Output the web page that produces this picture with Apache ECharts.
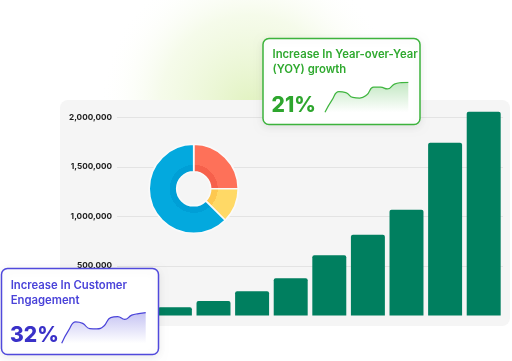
<!DOCTYPE html>
<html>
<head>
<meta charset="utf-8">
<script src="https://cdn.jsdelivr.net/npm/echarts@6/dist/echarts.min.js"></script>
<style>
html,body{margin:0;padding:0;background:#fff;}
#chart{width:512px;height:361px;}
</style>
</head>
<body>
<div id="chart"></div>
<script>
// ---- data ----
var barCategories = ['1','2','3','4','5','6','7','8','9','10'];
var barValues = [40000, 83000, 146000, 245000, 376000, 608000, 816000, 1066000, 1742000, 2056000];
var yTicks = [0, 500000, 1000000, 1500000, 2000000];

var pieNames = ['A', 'B', 'C'];
var pieValues = [25, 12.5, 62.5];

var yoyTitle = ['Increase In Year-over-Year', '(YOY) growth'];
var yoyValue = '21%';
var yoySpark = [0, 40, 68, 65, 49, 47, 57, 83, 83, 77, 93, 98, 99];

var engTitle = ['Increase In Customer', 'Engagement'];
var engValue = '32%';
var engSpark = [0, 43, 70, 65, 48, 47, 56, 84, 87, 78, 92, 97, 100];

var sparkCats = yoySpark.map(function (v, i) { return String(i); });

var FONT = 'Inter, "Noto Sans", sans-serif';

var chart = echarts.init(document.getElementById('chart'), null, {renderer: 'canvas'});

function vGrad(r, g, b, a) {
  return new echarts.graphic.LinearGradient(0, 0, 0, 1, [
    {offset: 0, color: 'rgba(' + r + ',' + g + ',' + b + ',' + a + ')'},
    {offset: 1, color: 'rgba(' + r + ',' + g + ',' + b + ',0)'}
  ]);
}

var PC = [193.7, 188.8], PR = 44.5;
function ringColor(dark, light) {
  var k = 24 / PR;
  return new echarts.graphic.RadialGradient(PC[0], PC[1], PR, [
    {offset: 0, color: dark}, {offset: k, color: dark},
    {offset: k + 0.001, color: light}, {offset: 1, color: light}
  ], true);
}
var pieColors = [ringColor('#f6604b', '#fe7159'), ringColor('#fdc84f', '#ffd966'), ringColor('#009fd6', '#03a9de')];

var option = {
  animation: false,
  backgroundColor: '#ffffff',
  grid: [
    {left: 117, right: 9, top: 117.3, bottom: 45.5},
    {left: 325, top: 82, width: 83.3, height: 30.3},
    {left: 61.7, top: 312.7, width: 84, height: 30.6}
  ],
  xAxis: [
    {gridIndex: 0, type: 'category', data: barCategories,
     axisLine: {show: false}, axisTick: {show: false}, axisLabel: {show: false}},
    {gridIndex: 1, type: 'category', data: sparkCats, boundaryGap: false, show: false},
    {gridIndex: 2, type: 'category', data: sparkCats, boundaryGap: false, show: false}
  ],
  yAxis: [
    {gridIndex: 0, type: 'value', min: yTicks[0], max: yTicks[yTicks.length - 1], interval: 500000,
     axisLine: {show: false}, axisTick: {show: false},
     axisLabel: {color: '#1a1a1a', fontSize: 8.2, fontWeight: 700, fontFamily: FONT, margin: 5,
       formatter: function (v) { return v.toLocaleString('en-US'); }},
     splitLine: {lineStyle: {color: ['rgba(0,0,0,0)', '#e3e3e3', '#e3e3e3', '#e3e3e3', '#e3e3e3'], width: 1}}},
    {gridIndex: 1, type: 'value', min: 0, max: 100, show: false},
    {gridIndex: 2, type: 'value', min: 0, max: 100, show: false}
  ],
  series: [
    {type: 'bar', xAxisIndex: 0, yAxisIndex: 0, data: barValues, barCategoryGap: '12%', clip: false,
     z: 2,
     itemStyle: {color: '#007f5f', borderRadius: [2, 2, 0, 0]}},
    {type: 'pie', center: PC, radius: [17, PR], startAngle: 90, clockwise: true,
     z: 4, silent: true, label: {show: false}, labelLine: {show: false},
     itemStyle: {borderColor: '#fafafa', borderWidth: 1.6},
     data: pieNames.map(function (n, i) {
       return {name: n, value: pieValues[i], itemStyle: {color: pieColors[i]}};
     })},
    {type: 'line', xAxisIndex: 1, yAxisIndex: 1, data: yoySpark, smooth: 0.5, symbol: 'none', z: 60,
     lineStyle: {color: '#3fb53f', width: 1.2},
     areaStyle: {color: vGrad(63, 181, 63, 0.45)}},
    {type: 'line', xAxisIndex: 2, yAxisIndex: 2, data: engSpark, smooth: 0.5, symbol: 'none', z: 60,
     lineStyle: {color: '#4a43d9', width: 1.2},
     areaStyle: {color: vGrad(74, 67, 217, 0.45)}}
  ],
  graphic: [
    {type: 'circle', z: -30, silent: true,
     shape: {cx: 250, cy: 105, r: 150},
     style: {fill: new echarts.graphic.RadialGradient(0.5, 0.5, 0.5, [
       {offset: 0, color: 'rgba(222,241,186,0.9)'},
       {offset: 0.6, color: 'rgba(236,247,214,0.5)'},
       {offset: 1, color: 'rgba(255,255,255,0)'}
     ])}},
    {type: 'rect', z: -20, silent: true,
     shape: {x: 60, y: 100, width: 450, height: 226, r: 8},
     style: {fill: '#f5f5f5'}},
    // green card
    {type: 'rect', z: 50, silent: true,
     shape: {x: 263, y: 38.5, width: 157, height: 86, r: 6},
     style: {fill: '#ffffff', stroke: '#3db33d', lineWidth: 1.5,
       shadowBlur: 8, shadowColor: 'rgba(0,0,0,0.08)', shadowOffsetY: 2}},
    {type: 'text', z: 70, silent: true, x: 272.5, y: 55,
     style: {text: yoyTitle[0], fill: '#2fa92f', font: '600 11.3px ' + FONT, textVerticalAlign: 'middle'}},
    {type: 'text', z: 70, silent: true, x: 272.5, y: 69.3,
     style: {text: yoyTitle[1], fill: '#2fa92f', font: '600 11.3px ' + FONT, textVerticalAlign: 'middle'}},
    {type: 'text', z: 70, silent: true, x: 271.5, y: 106,
     style: {text: yoyValue, fill: '#2ea62e', font: '800 21px ' + FONT, textVerticalAlign: 'middle'}},
    // blue card
    {type: 'rect', z: 50, silent: true,
     shape: {x: 1.5, y: 268.5, width: 157, height: 86, r: 6},
     style: {fill: '#ffffff', stroke: '#5049dc', lineWidth: 1.5,
       shadowBlur: 8, shadowColor: 'rgba(0,0,0,0.08)', shadowOffsetY: 2}},
    {type: 'text', z: 70, silent: true, x: 10.7, y: 286,
     style: {text: engTitle[0], fill: '#4a43d9', font: '600 11.3px ' + FONT, textVerticalAlign: 'middle'}},
    {type: 'text', z: 70, silent: true, x: 10.7, y: 300.7,
     style: {text: engTitle[1], fill: '#4a43d9', font: '600 11.3px ' + FONT, textVerticalAlign: 'middle'}},
    {type: 'text', z: 70, silent: true, x: 10, y: 336,
     style: {text: engValue, fill: '#3a31c8', font: '800 21px ' + FONT, textVerticalAlign: 'middle'}}
  ]
};
chart.setOption(option);
</script>
</body>
</html>
